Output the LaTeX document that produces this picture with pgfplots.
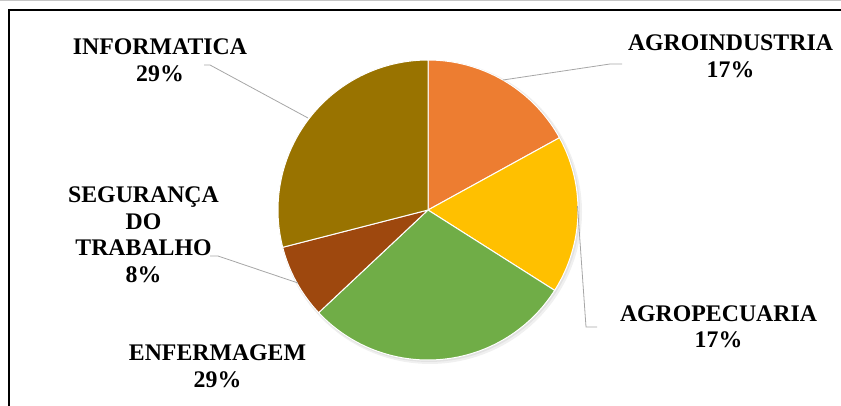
\documentclass[border=0pt]{standalone}
\usepackage{pgfplots}
\pgfplotsset{compat=1.18}
\usepackage{pgfplotstable}
\usepackage{fontspec}
\setmainfont{Liberation Serif}
\definecolor{cA}{HTML}{ED7D31}
\definecolor{cB}{HTML}{FFC000}
\definecolor{cC}{HTML}{70AD47}
\definecolor{cD}{HTML}{9E480E}
\definecolor{cE}{HTML}{997300}
\definecolor{leader}{HTML}{A6A6A6}
\pgfplotstableread{
name value col
AGROINDUSTRIA 17 cA
AGROPECUARIA 17 cB
ENFERMAGEM 29 cC
SEGURANCA 8 cD
INFORMATICA 29 cE
}\piedata
\tikzset{lab/.style={font=\fontsize{23.8bp}{26.5bp}\selectfont\bfseries, align=center, inner sep=0pt, anchor=center}}
\begin{document}
\begin{tikzpicture}
\begin{axis}[
  scale only axis, width=841bp, height=406bp,
  xmin=0, xmax=841, ymin=0, ymax=406, y dir=reverse,
  hide axis, clip=false,
]
% top gray edge and frame
\addplot[gray!45, line width=1bp] coordinates {(0,1) (841,1)};
\addplot[black, line width=2.2bp] coordinates {(8.6,406) (8.6,10) (841,10)};
% shadow
\addplot[draw=none, fill=black, fill opacity=0.06, domain=0:360, samples=120] ({430+152*cos(x)},{212-152*sin(x)});
\addplot[draw=none, fill=black, fill opacity=0.06, domain=0:360, samples=120] ({429+151*cos(x)},{211-151*sin(x)});
% slices
\def\angA{90}
\pgfplotsforeachungrouped \i in {0,...,4}{%
  \pgfplotstablegetelem{\i}{value}\of\piedata
  \pgfmathsetmacro\angB{\angA-3.6*\pgfplotsretval}%
  \pgfplotstablegetelem{\i}{col}\of\piedata
  \edef\tmp{\noexpand\addplot[fill=\pgfplotsretval, draw=white, line width=1bp, domain=\angB:\angA, samples=90] ({428+150*cos(x)},{210-150*sin(x)}) -- (axis cs:428,210) -- cycle;}%
  \tmp
  \global\let\angA\angB
}
% leader lines
\addplot[leader, line width=0.8bp] coordinates {(503,80) (610,64) (622,64)};
\addplot[leader, line width=0.8bp] coordinates {(577.5,206) (586,327) (597,327)};
\addplot[leader, line width=0.8bp] coordinates {(308,118) (210,65) (204,65)};
\addplot[leader, line width=0.8bp] coordinates {(298,283) (218,256) (210,256)};
% labels
\node[lab] at (axis cs:160,60.5) {INFORMATICA\\29\%};
\node[lab] at (axis cs:730.5,56.5) {AGROINDUSTRIA\\17\%};
\node[lab] at (axis cs:718.5,327) {AGROPECUARIA\\17\%};
\node[lab] at (axis cs:217.5,366.5) {ENFERMAGEM\\29\%};
\node[lab] at (axis cs:143.5,235) {SEGURANÇA\\DO\\TRABALHO\\8\%};
\end{axis}
\pgfresetboundingbox
\useasboundingbox (0,0) rectangle (841bp,406bp);
\end{tikzpicture}
\end{document}
